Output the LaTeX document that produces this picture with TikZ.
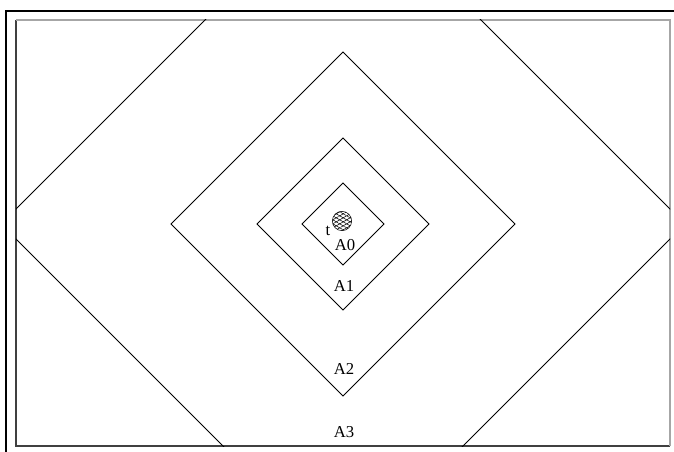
\documentclass[tikz,border=0pt]{standalone}
\usepackage{fontspec}
\setmainfont{Liberation Serif}
\usetikzlibrary{patterns.meta}

\begin{document}
\begin{tikzpicture}[x=0.75pt, y=-0.75pt, font=\fontsize{12.5}{14}\selectfont,
  zone/.style={draw, line width=0.6pt},
  lbl/.style={inner sep=0pt}]

\useasboundingbox (0, 0) rectangle (674, 452);

% frame
\draw[line width=1.6pt] (6, 452) -- (6, 11) -- (674, 11);
\draw[black!75, line width=0.8pt] (670, 446) -- (16, 446) -- (16, 20);
\draw[gray!70, line width=1.2pt] (16, 20) -- (670, 20) -- (670, 446);

% zones
\begin{scope}
\clip (16, 20) rectangle (670, 446);
\draw[zone] (343, -118) -- (685, 224) -- (343, 566) -- (1, 224) -- cycle;
\end{scope}
\draw[zone] (343, 52) -- (515, 224) -- (343, 396) -- (171, 224) -- cycle;
\draw[zone] (343, 138) -- (429, 224) -- (343, 310) -- (257, 224) -- cycle;
\draw[zone] (343, 183) -- (384, 224) -- (343, 265) -- (302, 224) -- cycle;

% target
\node[circle, draw, minimum size=14.5pt, inner sep=0pt,
  pattern={Lines[angle=30, distance=2.6pt, line width=0.4pt]}] (tgt) at (342, 221) {};
\node[circle, minimum size=14.5pt, inner sep=0pt,
  pattern={Lines[angle=-30, distance=2.6pt, line width=0.4pt]}] at (tgt) {};
\node[lbl] (t) at (328, 231) {t};

\node[lbl] (a0) at (345, 245) {A0};
\node[lbl] (a1) at (344, 286) {A1};
\node[lbl] (a2) at (344, 369) {A2};
\node[lbl] (a3) at (344, 432) {A3};

\end{tikzpicture}
\end{document}
